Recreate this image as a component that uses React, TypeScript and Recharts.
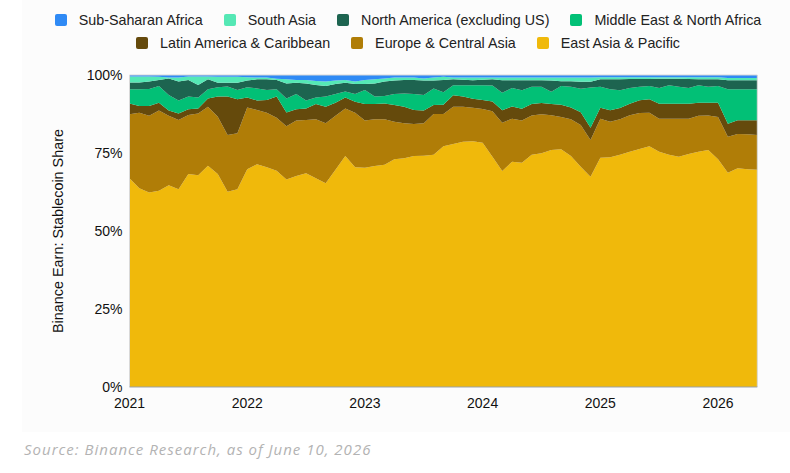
import { Area, AreaChart, ReferenceLine, XAxis, YAxis } from "recharts";

// monthly points, Jan 2021 .. May 2026
const months: string[] = [];
for (let y = 2021; y <= 2026; y++) {
  for (let m = 1; m <= 12; m++) {
    if (y === 2026 && m > 5) break;
    months.push(`${y}-${String(m).padStart(2, "0")}`);
  }
}

const yearTicks = ["2021", "2022", "2023", "2024", "2025", "2026"];
const shareTicks = [0, 0.25, 0.5, 0.75, 1];

// share of Binance Earn stablecoin balances, %
const eastAsiaPacific = [
  66.9, 63.7, 62.3, 62.9, 64.7, 63.4, 68.3, 67.9, 70.9, 68.3, 62.6, 63.4,
  69.8, 71.4, 70.4, 69.3, 66.5, 67.6, 68.5, 66.9, 65.3, 69.6, 74.0, 70.4,
  70.3, 70.8, 71.2, 73.0, 73.3, 74.0, 74.1, 74.4, 77.2, 77.9, 78.6, 78.8,
  78.3, 73.8, 69.2, 72.2, 71.9, 74.4, 74.9, 76.0, 76.2, 74.0, 70.6, 67.4,
  73.5, 73.6, 74.4, 75.4, 76.3, 77.2, 75.4, 74.4, 73.8, 74.7, 75.4, 76.0,
  73.0, 68.7, 70.1, 69.8, 69.6,
];
const europeCentralAsia = [
  20.5, 24.2, 24.6, 25.7, 22.2, 22.2, 18.9, 19.8, 18.9, 18.3, 18.2, 17.9,
  19.8, 17.4, 17.5, 17.0, 17.1, 17.8, 17.1, 18.9, 19.2, 17.3, 15.3, 17.5,
  15.1, 15.0, 14.6, 12.0, 11.2, 10.3, 10.4, 13.1, 10.3, 11.9, 11.2, 10.7,
  10.8, 14.6, 15.5, 13.8, 13.5, 12.6, 12.5, 11.1, 10.3, 11.8, 13.4, 11.8,
  12.5, 11.4, 11.4, 11.7, 11.5, 10.7, 10.6, 11.6, 12.2, 11.3, 11.5, 11.0,
  13.5, 11.5, 11.0, 11.2, 11.2,
];
const latinAmericaCaribbean = [
  3.5, 2.2, 3.2, 2.5, 1.7, 2.1, 1.8, 1.6, 2.7, 6.5, 12.3, 10.9,
  3.2, 3.0, 4.1, 6.8, 4.4, 3.6, 3.7, 4.9, 5.3, 4.2, 3.5, 3.5,
  5.3, 4.9, 5.1, 5.4, 5.3, 4.5, 4.1, 2.9, 3.0, 3.7, 3.3, 2.9,
  2.9, 3.1, 4.0, 3.9, 3.8, 3.7, 3.6, 3.6, 4.0, 3.8, 4.1, 3.9,
  3.5, 3.7, 3.6, 3.7, 4.1, 4.3, 4.8, 4.8, 4.8, 4.8, 4.2, 4.1,
  4.6, 4.2, 4.4, 4.5, 4.7,
];
const middleEastNorthAfrica = [
  4.5, 5.3, 5.4, 5.4, 5.0, 4.1, 4.1, 3.5, 2.9, 3.0, 3.2, 3.0,
  3.3, 3.9, 3.2, 2.3, 4.5, 4.9, 2.5, 2.1, 3.3, 2.8, 1.9, 2.5,
  4.5, 2.4, 2.4, 3.5, 4.3, 5.1, 5.0, 5.3, 4.0, 3.2, 3.6, 4.3,
  4.7, 5.1, 5.6, 5.9, 5.9, 5.5, 5.2, 3.9, 6.0, 6.6, 7.5, 12.9,
  6.7, 6.7, 5.7, 5.0, 4.3, 4.3, 5.0, 5.9, 5.4, 5.0, 5.6, 5.1,
  5.4, 11.0, 9.9, 9.9, 9.9,
];
const northAmericaExUS = [
  2.2, 2.2, 2.4, 1.9, 5.3, 6.1, 5.3, 4.0, 3.2, 1.4, 1.2, 2.3,
  2.1, 2.9, 3.4, 3.0, 4.8, 3.6, 5.5, 4.0, 3.4, 3.2, 2.8, 3.2,
  1.9, 4.2, 4.6, 4.3, 4.3, 4.5, 4.6, 2.5, 3.9, 1.9, 1.8, 1.6,
  1.8, 2.0, 4.0, 2.5, 3.2, 2.1, 2.1, 3.6, 1.5, 1.8, 2.2, 1.8,
  2.4, 3.2, 3.5, 2.9, 2.5, 2.2, 3.0, 2.1, 2.6, 2.9, 1.9, 2.4,
  2.1, 2.9, 2.9, 2.9, 2.9,
];
const southAsia = [
  1.9, 1.9, 1.6, 1.0, 0.3, 1.3, 1.1, 2.7, 0.9, 1.9, 1.9, 1.9,
  1.1, 0.6, 0.6, 0.4, 1.3, 0.9, 1.1, 1.3, 1.4, 1.1, 0.9, 0.8,
  1.3, 1.3, 1.0, 1.0, 0.8, 0.8, 0.7, 1.0, 1.0, 0.6, 0.7, 0.9,
  0.7, 0.6, 0.9, 0.9, 0.9, 0.9, 0.9, 1.0, 1.2, 1.2, 1.4, 1.4,
  0.7, 0.7, 0.7, 0.6, 0.6, 0.6, 0.5, 0.5, 0.5, 0.6, 0.7, 0.7,
  0.7, 0.7, 0.7, 0.7, 0.7,
];
const subSaharanAfrica = [
  0.5, 0.5, 0.5, 0.6, 0.8, 0.8, 0.5, 0.5, 0.5, 0.6, 0.6, 0.6,
  0.7, 0.8, 0.8, 1.2, 1.4, 1.6, 1.6, 1.9, 2.1, 1.8, 1.6, 2.1,
  1.6, 1.4, 1.1, 0.8, 0.8, 0.8, 1.1, 0.8, 0.6, 0.8, 0.8, 0.8,
  0.8, 0.8, 0.8, 0.8, 0.8, 0.8, 0.8, 0.8, 0.8, 0.8, 0.8, 0.8,
  0.7, 0.7, 0.7, 0.7, 0.7, 0.7, 0.7, 0.7, 0.7, 0.7, 0.7, 0.7,
  0.7, 1.0, 1.0, 1.0, 1.0,
];

// stacking order: first = bottom
const series = [
  { key: "eap", name: "East Asia & Pacific", color: "#F0B90B", values: eastAsiaPacific },
  { key: "eca", name: "Europe & Central Asia", color: "#B07D07", values: europeCentralAsia },
  { key: "lac", name: "Latin America & Caribbean", color: "#654A0C", values: latinAmericaCaribbean },
  { key: "mena", name: "Middle East & North Africa", color: "#02C076", values: middleEastNorthAfrica },
  { key: "na", name: "North America (excluding US)", color: "#1D6450", values: northAmericaExUS },
  { key: "sa", name: "South Asia", color: "#55E8B5", values: southAsia },
  { key: "ssa", name: "Sub-Saharan Africa", color: "#2F8AF5", values: subSaharanAfrica },
];

const legendRows = [
  ["ssa", "sa", "na", "mena"],
  ["lac", "eca", "eap"],
];

const data = months.map((label, i) => {
  const row: Record<string, number | string> = { m: i, label };
  series.forEach((s) => {
    row[s.key] = s.values[i];
  });
  return row;
});

const font = "'Liberation Sans', Arial, sans-serif";
const lastIndex = months.length - 1;

export default function App() {
  return (
    <div
      style={{
        position: "absolute",
        left: 0,
        top: 0,
        width: 790,
        height: 473,
        background: "#fff",
        fontFamily: font,
        overflow: "hidden",
      }}
    >
      <div
        style={{
          position: "absolute",
          left: 22,
          top: 0,
          width: 768,
          height: 432,
          background: "#fcfcfc",
        }}
      />

      {/* legend, two centred rows */}
      {legendRows.map((row, r) => (
        <div
          key={r}
          style={{
            position: "absolute",
            left: 0,
            top: 12 + r * 23,
            width: 816,
            display: "flex",
            justifyContent: "center",
            gap: 21,
            fontSize: 14.3,
            lineHeight: "16px",
            color: "#222",
          }}
        >
          {row.map((k) => {
            const s = series.find((d) => d.key === k)!;
            return (
              <div key={k} style={{ display: "flex", alignItems: "center" }}>
                <span
                  style={{
                    width: 12,
                    height: 12,
                    borderRadius: 2,
                    background: s.color,
                    marginRight: 12,
                  }}
                />
                <span>{s.name}</span>
              </div>
            );
          })}
        </div>
      ))}

      <div style={{ position: "absolute", left: 0, top: 0 }}>
        <AreaChart
          width={790}
          height={473}
          data={data}
          stackOffset="expand"
          margin={{ top: 75, right: 32.7, bottom: 56, left: 49.5 }}
        >
          <XAxis
            dataKey="m"
            type="number"
            domain={[0, lastIndex]}
            ticks={yearTicks.map((_, i) => i * 12)}
            tickFormatter={(v: number) => yearTicks[v / 12]}
            height={30}
            tickSize={0}
            tickMargin={11}
            tickLine={false}
            axisLine={{ stroke: "#9aa1ab" }}
            tick={{ fill: "#111", fontSize: 14, fontFamily: font }}
          />
          <YAxis
            type="number"
            domain={[0, 1]}
            ticks={shareTicks}
            tickFormatter={(v: number) => `${Math.round(v * 100)}%`}
            width={80}
            tickSize={0}
            tickMargin={7}
            tickLine={false}
            axisLine={false}
            tick={{ fill: "#111", fontSize: 14, fontFamily: font }}
          />
          {series.map((s) => (
            <Area
              key={s.key}
              type="linear"
              dataKey={s.key}
              name={s.name}
              stackId="share"
              stroke="none"
              fill={s.color}
              fillOpacity={1}
              isAnimationActive={false}
            />
          ))}
          <ReferenceLine y={1} stroke="#d8d8d8" />
          <ReferenceLine x={0} stroke="#d8d8d8" />
          <ReferenceLine x={lastIndex} stroke="#d8d8d8" />
        </AreaChart>
      </div>

      <div
        style={{
          position: "absolute",
          left: 58 - 130,
          top: 231 - 8,
          width: 260,
          height: 16,
          lineHeight: "16px",
          textAlign: "center",
          fontSize: 14.4,
          color: "#111",
          transform: "rotate(-90deg)",
        }}
      >
        Binance Earn: Stablecoin Share
      </div>

      <div
        style={{
          position: "absolute",
          left: 24,
          top: 440,
          fontSize: 15,
          lineHeight: "18px",
          fontStyle: "italic",
          letterSpacing: 1,
          fontFamily: "'Open Sans', sans-serif",
          color: "#b3b3b3",
        }}
      >
        Source: Binance Research, as of June 10, 2026
      </div>
    </div>
  );
}
